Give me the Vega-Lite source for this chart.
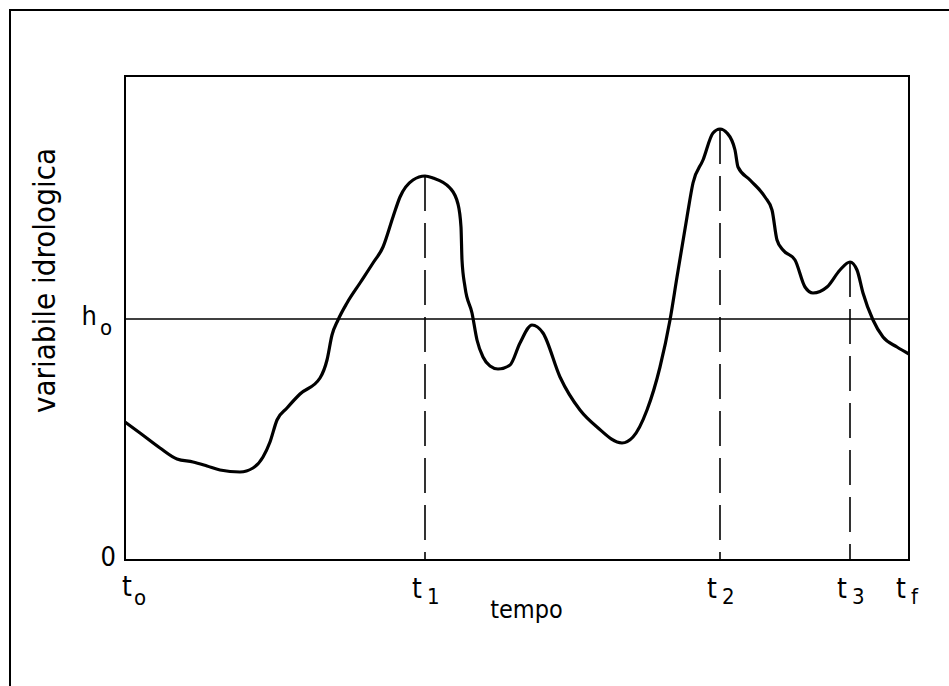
{
  "$schema": "https://vega.github.io/schema/vega-lite/v6.json",
  "width": 784,
  "height": 484,
  "autosize": {"type": "none"},
  "padding": {"left": 125, "top": 76, "right": 40, "bottom": 126},
  "background": "white",
  "config": {
    "view": {"stroke": "black", "strokeWidth": 2},
    "font": "DejaVu Sans Condensed, DejaVu Sans"
  },
  "datasets": {
    "curve": [
      {"t": 0, "v": 138}, {"t": 15, "v": 127}, {"t": 35, "v": 112}, {"t": 52, "v": 101},
      {"t": 68, "v": 98}, {"t": 82, "v": 94}, {"t": 95, "v": 90}, {"t": 115, "v": 88},
      {"t": 128, "v": 92}, {"t": 138, "v": 103}, {"t": 145, "v": 118}, {"t": 152, "v": 140},
      {"t": 162, "v": 152}, {"t": 175, "v": 166}, {"t": 195, "v": 182}, {"t": 202, "v": 200},
      {"t": 207, "v": 225}, {"t": 213, "v": 240}, {"t": 222, "v": 257}, {"t": 235, "v": 277},
      {"t": 248, "v": 297}, {"t": 258, "v": 313}, {"t": 268, "v": 343}, {"t": 275, "v": 363},
      {"t": 288, "v": 380}, {"t": 300, "v": 384}, {"t": 308, "v": 382}, {"t": 325, "v": 372},
      {"t": 333, "v": 356}, {"t": 336, "v": 333}, {"t": 337, "v": 300}, {"t": 340, "v": 273},
      {"t": 347, "v": 247}, {"t": 352, "v": 220}, {"t": 358, "v": 203}, {"t": 365, "v": 194},
      {"t": 373, "v": 191}, {"t": 385, "v": 195}, {"t": 395, "v": 217}, {"t": 407, "v": 235},
      {"t": 418, "v": 227}, {"t": 435, "v": 183}, {"t": 455, "v": 150}, {"t": 472, "v": 133},
      {"t": 497, "v": 117}, {"t": 508, "v": 123}, {"t": 522, "v": 150}, {"t": 535, "v": 193},
      {"t": 545, "v": 240}, {"t": 552, "v": 283}, {"t": 562, "v": 343}, {"t": 568, "v": 377},
      {"t": 578, "v": 400}, {"t": 588, "v": 427}, {"t": 595, "v": 431}, {"t": 602, "v": 427},
      {"t": 610, "v": 410}, {"t": 613, "v": 393}, {"t": 625, "v": 380}, {"t": 640, "v": 363},
      {"t": 647, "v": 350}, {"t": 652, "v": 320}, {"t": 658, "v": 310}, {"t": 670, "v": 300},
      {"t": 680, "v": 273}, {"t": 688, "v": 267}, {"t": 702, "v": 273}, {"t": 715, "v": 290},
      {"t": 725, "v": 298}, {"t": 732, "v": 290}, {"t": 738, "v": 267}, {"t": 748, "v": 240},
      {"t": 758, "v": 223}, {"t": 772, "v": 213}, {"t": 784, "v": 206}
    ],
    "peaks": [
      {"t": 300, "v": 384, "base": 0},
      {"t": 595, "v": 431, "base": 0},
      {"t": 725, "v": 298, "base": 0}
    ],
    "xlabels": [
      {"t": 0, "v": 0, "base": "t", "sub": "o"},
      {"t": 300, "v": 0, "base": "t", "sub": "1"},
      {"t": 595, "v": 0, "base": "t", "sub": "2"},
      {"t": 725, "v": 0, "base": "t", "sub": "3"},
      {"t": 784, "v": 0, "base": "t", "sub": "f"}
    ],
    "ylabels": [
      {"t": 0, "v": 0, "base": "0", "sub": ""},
      {"t": 0, "v": 241, "base": "h", "sub": "o"}
    ],
    "threshold": [{"v": 241}],
    "frame": [{"x1": -115, "x2": 840, "y1": 550, "y2": -140}]
  },
  "layer": [
    {
      "data": {"name": "frame"},
      "mark": {"type": "rect", "fillOpacity": 0, "fill": "white", "stroke": "black", "strokeWidth": 2},
      "encoding": {
        "x": {"field": "x1", "type": "quantitative", "scale": {"domain": [0, 784], "nice": false, "zero": false},
              "axis": {"domain": false, "ticks": false, "labels": false, "grid": false, "title": "tempo",
                       "titleFontSize": 25, "titleFontWeight": "normal", "titlePadding": 37, "titleX": 401, "titleColor": "black"}},
        "x2": {"field": "x2"},
        "y": {"field": "y1", "type": "quantitative", "scale": {"domain": [0, 484], "nice": false, "zero": false},
              "axis": {"domain": false, "ticks": false, "labels": false, "grid": false, "title": "variabile idrologica",
                       "titleFontSize": 31, "titleFontWeight": "normal", "titlePadding": 64, "titleY": 204, "titleColor": "black"}},
        "y2": {"field": "y2"}
      }
    },
    {
      "data": {"name": "threshold"},
      "mark": {"type": "rule", "stroke": "black", "strokeWidth": 1.5},
      "encoding": {"y": {"field": "v", "type": "quantitative"}}
    },
    {
      "data": {"name": "peaks"},
      "mark": {"type": "rule", "stroke": "black", "strokeWidth": 1.6, "strokeDash": [35, 12]},
      "encoding": {
        "x": {"field": "t", "type": "quantitative"},
        "y": {"field": "v", "type": "quantitative"},
        "y2": {"field": "base"}
      }
    },
    {
      "data": {"name": "curve"},
      "mark": {"type": "line", "stroke": "black", "strokeWidth": 3.2, "interpolate": "monotone"},
      "encoding": {
        "x": {"field": "t", "type": "quantitative"},
        "y": {"field": "v", "type": "quantitative"}
      }
    },
    {
      "data": {"name": "xlabels"},
      "transform": [{"filter": "datum.t > 0"}],
      "mark": {"type": "text", "align": "left", "baseline": "alphabetic", "fontSize": 28, "dx": -13, "dy": 38, "color": "black"},
      "encoding": {
        "x": {"field": "t", "type": "quantitative"},
        "y": {"field": "v", "type": "quantitative"},
        "text": {"field": "base"}
      }
    },
    {
      "data": {"name": "xlabels"},
      "transform": [{"filter": "datum.t > 0"}],
      "mark": {"type": "text", "align": "left", "baseline": "alphabetic", "fontSize": 22, "dx": 2, "dy": 44, "color": "black"},
      "encoding": {
        "x": {"field": "t", "type": "quantitative"},
        "y": {"field": "v", "type": "quantitative"},
        "text": {"field": "sub"}
      }
    },
    {
      "data": {"name": "xlabels"},
      "transform": [{"filter": "datum.t == 0"}],
      "mark": {"type": "text", "align": "left", "baseline": "alphabetic", "fontSize": 28, "dx": -3, "dy": 36, "color": "black"},
      "encoding": {
        "x": {"field": "t", "type": "quantitative"},
        "y": {"field": "v", "type": "quantitative"},
        "text": {"field": "base"}
      }
    },
    {
      "data": {"name": "xlabels"},
      "transform": [{"filter": "datum.t == 0"}],
      "mark": {"type": "text", "align": "left", "baseline": "alphabetic", "fontSize": 22, "dx": 9, "dy": 45, "color": "black"},
      "encoding": {
        "x": {"field": "t", "type": "quantitative"},
        "y": {"field": "v", "type": "quantitative"},
        "text": {"field": "sub"}
      }
    },
    {
      "data": {"name": "ylabels"},
      "transform": [{"filter": "datum.v == 0"}],
      "mark": {"type": "text", "align": "right", "baseline": "alphabetic", "fontSize": 27, "dx": -9, "dy": 6, "color": "black"},
      "encoding": {
        "x": {"field": "t", "type": "quantitative"},
        "y": {"field": "v", "type": "quantitative"},
        "text": {"field": "base"}
      }
    },
    {
      "data": {"name": "ylabels"},
      "transform": [{"filter": "datum.v > 0"}],
      "mark": {"type": "text", "align": "right", "baseline": "alphabetic", "fontSize": 27, "dx": -28, "dy": 6, "color": "black"},
      "encoding": {
        "x": {"field": "t", "type": "quantitative"},
        "y": {"field": "v", "type": "quantitative"},
        "text": {"field": "base"}
      }
    },
    {
      "data": {"name": "ylabels"},
      "transform": [{"filter": "datum.v > 0"}],
      "mark": {"type": "text", "align": "left", "baseline": "alphabetic", "fontSize": 22, "dx": -25, "dy": 16, "color": "black"},
      "encoding": {
        "x": {"field": "t", "type": "quantitative"},
        "y": {"field": "v", "type": "quantitative"},
        "text": {"field": "sub"}
      }
    }
  ]
}
